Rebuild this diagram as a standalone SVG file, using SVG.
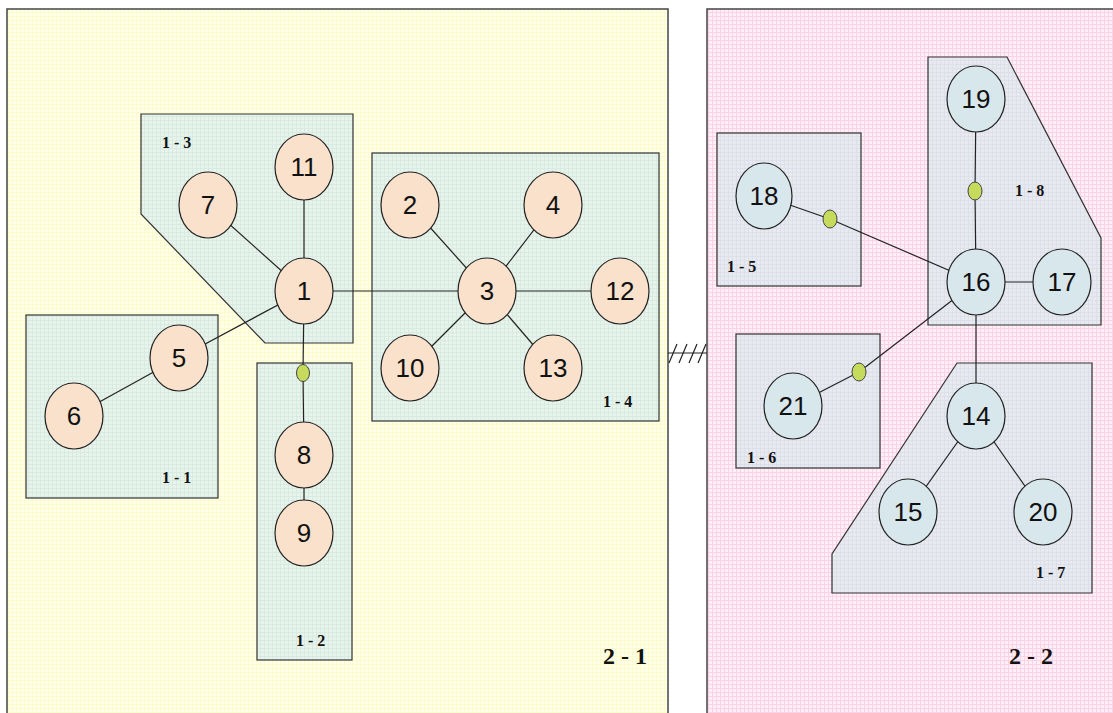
<svg xmlns="http://www.w3.org/2000/svg" width="1113" height="713" viewBox="0 0 1113 713">
<defs>
<pattern id="gy" width="4" height="4" patternUnits="userSpaceOnUse">
<rect width="4" height="4" fill="#FFFFEA"/>
<path d="M0 0.5H4M0.5 0V4" stroke="#FBFBCC" stroke-width="1"/>
</pattern>
<pattern id="gp" width="4" height="4" patternUnits="userSpaceOnUse">
<rect width="4" height="4" fill="#FFF0F7"/>
<path d="M0 0.5H4M0.5 0V4" stroke="#FCD2E6" stroke-width="1"/>
</pattern>
<pattern id="gm" width="4" height="4" patternUnits="userSpaceOnUse">
<rect width="4" height="4" fill="#E8F4EA"/>
<path d="M0 0.5H4M0.5 0V4" stroke="#D8EAE4" stroke-width="1"/>
</pattern>
<pattern id="gb" width="4" height="4" patternUnits="userSpaceOnUse">
<rect width="4" height="4" fill="#E8EAF0"/>
<path d="M0 0.5H4M0.5 0V4" stroke="#DCE0EA" stroke-width="1"/>
</pattern>
</defs>
<style>
.panel{stroke:#444;stroke-width:1.5}
.box{stroke:#333;stroke-width:1.2}
.boxg{fill:url(#gm)}
.boxb{fill:url(#gb)}
.n{stroke:#222;stroke-width:1.2}
.no{fill:#F9E1CB}
.nb{fill:#D8E7EC}
.dot{fill:#C6DA5C;stroke:#444;stroke-width:1}
.t{font-family:"Liberation Sans",Arial,sans-serif;font-size:26px;fill:#111;text-anchor:middle}
.bl{font-family:"Liberation Serif","Times New Roman",serif;font-weight:bold;font-size:16px;fill:#111}
.pl{font-family:"Liberation Serif","Times New Roman",serif;font-weight:bold;font-size:24px;fill:#111}
#connectors line,#connectors path{stroke:#222;stroke-width:1.2;fill:none}
</style>
<rect width="1113" height="713" fill="#FFFFFF"/>
<g id="panel-2-1">
<rect class="panel" x="7" y="9" width="661" height="720" fill="url(#gy)"/>
<text class="pl" x="603" y="664">2 - 1</text>
</g>
<g id="panel-2-2">
<rect class="panel" x="707" y="9" width="420" height="720" fill="url(#gp)"/>
<text class="pl" x="1009" y="664">2 - 2</text>
</g>
<g id="group-1-1">
<rect class="box boxg" x="26" y="315" width="192" height="183"/>
<text class="bl" x="162" y="483">1 - 1</text>
</g>
<g id="group-1-2">
<rect class="box boxg" x="257" y="363" width="95" height="297"/>
<text class="bl" x="296" y="646">1 - 2</text>
</g>
<g id="group-1-3">
<polygon class="box boxg" points="141,114 353,114 353,343 265,343 141,214"/>
<text class="bl" x="162" y="148">1 - 3</text>
</g>
<g id="group-1-4">
<rect class="box boxg" x="372" y="153" width="287" height="268"/>
<text class="bl" x="603" y="407">1 - 4</text>
</g>
<g id="group-1-5">
<rect class="box boxb" x="717" y="133" width="144" height="153"/>
<text class="bl" x="727" y="272">1 - 5</text>
</g>
<g id="group-1-6">
<rect class="box boxb" x="736" y="334" width="144" height="134"/>
<text class="bl" x="747" y="463">1 - 6</text>
</g>
<g id="group-1-7">
<polygon class="box boxb" points="957,363 1092,363 1092,593 832,593 832,554"/>
<text class="bl" x="1036" y="578">1 - 7</text>
</g>
<g id="group-1-8">
<polygon class="box boxb" points="928,57 1007,57 1101,238 1101,325 928,325"/>
<text class="bl" x="1015" y="196">1 - 8</text>
</g>
<g id="connectors">
<line x1="304" y1="291" x2="179" y2="358"/>
<line x1="179" y1="358" x2="74" y2="416"/>
<line x1="304" y1="291" x2="208" y2="205"/>
<line x1="304" y1="291" x2="304" y2="167"/>
<line x1="304" y1="291" x2="487" y2="291"/>
<line x1="304" y1="291" x2="303" y2="373"/>
<line x1="303" y1="373" x2="304" y2="455"/>
<line x1="304" y1="455" x2="304" y2="533"/>
<line x1="487" y1="291" x2="410" y2="205"/>
<line x1="487" y1="291" x2="553" y2="205"/>
<line x1="487" y1="291" x2="620" y2="291"/>
<line x1="487" y1="291" x2="410" y2="368"/>
<line x1="487" y1="291" x2="553" y2="368"/>
<line x1="976" y1="99" x2="975" y2="191"/>
<line x1="975" y1="191" x2="976" y2="282"/>
<line x1="764" y1="196" x2="830" y2="219"/>
<line x1="830" y1="219" x2="976" y2="282"/>
<line x1="976" y1="282" x2="1062" y2="282"/>
<line x1="976" y1="282" x2="976" y2="416"/>
<line x1="976" y1="282" x2="859" y2="372"/>
<line x1="859" y1="372" x2="793" y2="406"/>
<line x1="976" y1="416" x2="908" y2="512"/>
<line x1="976" y1="416" x2="1043" y2="512"/>
<line x1="668" y1="353" x2="707" y2="353"/>
<path d="M669 363L677 344M679 363L687 344M689 363L697 344M698 363L706 344"/>
</g>
<g id="dot-a"><ellipse class="dot" cx="303" cy="373" rx="6.5" ry="8.5"/></g>
<g id="dot-b"><ellipse class="dot" cx="830" cy="219" rx="7" ry="9"/></g>
<g id="dot-c"><ellipse class="dot" cx="975" cy="191" rx="7" ry="9"/></g>
<g id="dot-d"><ellipse class="dot" cx="859" cy="372" rx="7" ry="9"/></g>
<g id="node-1"><ellipse class="n no" cx="304" cy="291" rx="29" ry="33"/><text class="t" x="304" y="300">1</text></g>
<g id="node-2"><ellipse class="n no" cx="410" cy="205" rx="29" ry="33"/><text class="t" x="410" y="214">2</text></g>
<g id="node-3"><ellipse class="n no" cx="487" cy="291" rx="29" ry="33"/><text class="t" x="487" y="300">3</text></g>
<g id="node-4"><ellipse class="n no" cx="553" cy="205" rx="29" ry="33"/><text class="t" x="553" y="214">4</text></g>
<g id="node-5"><ellipse class="n no" cx="179" cy="358" rx="29" ry="33"/><text class="t" x="179" y="367">5</text></g>
<g id="node-6"><ellipse class="n no" cx="74" cy="416" rx="29" ry="33"/><text class="t" x="74" y="425">6</text></g>
<g id="node-7"><ellipse class="n no" cx="208" cy="205" rx="29" ry="33"/><text class="t" x="208" y="214">7</text></g>
<g id="node-8"><ellipse class="n no" cx="304" cy="455" rx="29" ry="33"/><text class="t" x="304" y="464">8</text></g>
<g id="node-9"><ellipse class="n no" cx="304" cy="533" rx="29" ry="33"/><text class="t" x="304" y="542">9</text></g>
<g id="node-10"><ellipse class="n no" cx="410" cy="368" rx="29" ry="33"/><text class="t" x="410" y="377">10</text></g>
<g id="node-11"><ellipse class="n no" cx="304" cy="167" rx="29" ry="33"/><text class="t" x="304" y="176">11</text></g>
<g id="node-12"><ellipse class="n no" cx="620" cy="291" rx="29" ry="33"/><text class="t" x="620" y="300">12</text></g>
<g id="node-13"><ellipse class="n no" cx="553" cy="368" rx="29" ry="33"/><text class="t" x="553" y="377">13</text></g>
<g id="node-14"><ellipse class="n nb" cx="976" cy="416" rx="29" ry="33"/><text class="t" x="976" y="425">14</text></g>
<g id="node-15"><ellipse class="n nb" cx="908" cy="512" rx="29" ry="33"/><text class="t" x="908" y="521">15</text></g>
<g id="node-16"><ellipse class="n nb" cx="976" cy="282" rx="29" ry="33"/><text class="t" x="976" y="291">16</text></g>
<g id="node-17"><ellipse class="n nb" cx="1062" cy="282" rx="29" ry="33"/><text class="t" x="1062" y="291">17</text></g>
<g id="node-18"><ellipse class="n nb" cx="764" cy="196" rx="28" ry="33"/><text class="t" x="764" y="205">18</text></g>
<g id="node-19"><ellipse class="n nb" cx="976" cy="99" rx="29" ry="33"/><text class="t" x="976" y="108">19</text></g>
<g id="node-20"><ellipse class="n nb" cx="1043" cy="512" rx="29" ry="33"/><text class="t" x="1043" y="521">20</text></g>
<g id="node-21"><ellipse class="n nb" cx="793" cy="406" rx="29" ry="33"/><text class="t" x="793" y="415">21</text></g>
</svg>
